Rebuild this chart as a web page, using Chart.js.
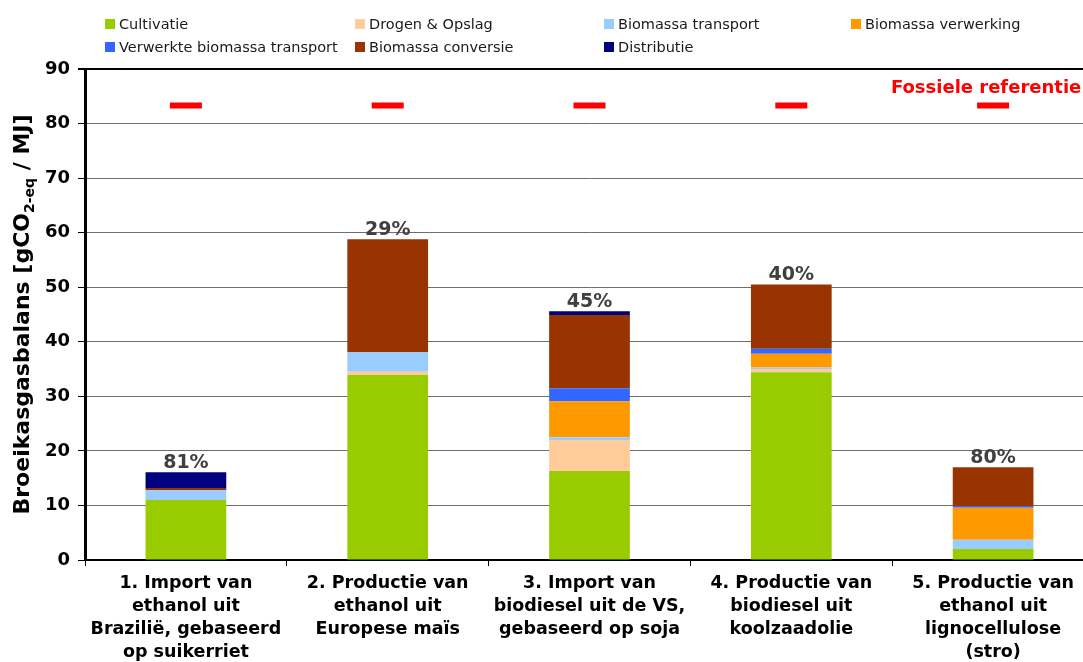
<!DOCTYPE html>
<html>
<head>
<meta charset="utf-8">
<script src="https://cdn.jsdelivr.net/npm/chart.js@4.4.1/dist/chart.umd.min.js"></script>
<style>
  body { margin: 0; background: #fff; overflow: hidden; }
  #wrap { position: relative; width: 1095px; height: 662px; }
  #legend { position: absolute; top: 0; left: 0; font-family: "DejaVu Sans", sans-serif; font-size: 14.5px; color: #1a1a1a; }
  .item { position: absolute; display: flex; align-items: center; white-space: nowrap; height: 18px; }
  .box { width: 10px; height: 10px; margin-right: 4px; }
</style>
</head>
<body>
<div id="wrap">
  <canvas id="ghgChart" width="1095" height="662"></canvas>
  <div id="legend"></div>
</div>
<script>
const categories = [
    ['1. Import van', 'ethanol uit', 'Brazilië, gebaseerd', 'op suikerriet'],
    ['2. Productie van', 'ethanol uit', 'Europese maïs'],
    ['3. Import van', 'biodiesel uit de VS,', 'gebaseerd op soja'],
    ['4. Productie van', 'biodiesel uit', 'koolzaadolie'],
    ['5. Productie van', 'ethanol uit', 'lignocellulose', '(stro)']
];

// gCO2-eq / MJ per keten-stap
const cultivatie = [11.0, 33.9, 16.3, 34.4, 2.0];
const drogenOpslag = [0, 0.6, 5.7, 0.6, 0];
const biomassaTransport = [1.8, 3.6, 0.5, 0.3, 1.7];
const biomassaVerwerking = [0, 0, 6.6, 2.5, 5.9];
const verwerkteTransport = [0, 0, 2.4, 0.9, 0.3];
const biomassaConversie = [0.4, 20.7, 13.4, 11.8, 7.1];
const distributie = [2.9, 0, 0.7, 0, 0];

const reductie = ['81%', '29%', '45%', '40%', '80%'];
const fossieleReferentie = [83.3, 83.3, 83.3, 83.3, 83.3];

const yTicks = [0, 10, 20, 30, 40, 50, 60, 70, 80, 90];

const series = [
    { label: 'Cultivatie', data: cultivatie, color: '#99CC00' },
    { label: 'Drogen & Opslag', data: drogenOpslag, color: '#FFCC99' },
    { label: 'Biomassa transport', data: biomassaTransport, color: '#99CCFF' },
    { label: 'Biomassa verwerking', data: biomassaVerwerking, color: '#FF9900' },
    { label: 'Verwerkte biomassa transport', data: verwerkteTransport, color: '#3366FF' },
    { label: 'Biomassa conversie', data: biomassaConversie, color: '#993300' },
    { label: 'Distributie', data: distributie, color: '#000080' }
];

const FONT = '"DejaVu Sans", sans-serif';

// legenda in twee rijen, vaste kolommen
const legendEl = document.getElementById('legend');
const colX = [105, 355, 604, 851];
const rowY = [15, 38];
series.forEach((s, i) => {
    const item = document.createElement('div');
    item.className = 'item';
    item.style.left = colX[i % 4] + 'px';
    item.style.top = rowY[Math.floor(i / 4)] + 'px';
    item.innerHTML = '<span class="box" style="background:' + s.color + '"></span>' + s.label;
    legendEl.appendChild(item);
});

const overlayPlugin = {
    id: 'overlay',
    afterDatasetsDraw(chart) {
        const ctx = chart.ctx;
        const x = chart.scales.x;
        const y = chart.scales.y;

        // percentages boven de staven
        ctx.save();
        ctx.font = 'bold 19px ' + FONT;
        ctx.fillStyle = '#404040';
        ctx.textAlign = 'center';
        ctx.textBaseline = 'alphabetic';
        categories.forEach((c, i) => {
            const total = series.reduce((sum, s) => sum + s.data[i], 0);
            ctx.fillText(reductie[i], x.getPixelForValue(i), y.getPixelForValue(total) - 4);
        });

        // label fossiele referentie
        ctx.font = 'bold 18px ' + FONT;
        ctx.fillStyle = '#FF0000';
        ctx.textBaseline = 'middle';
        ctx.fillText('Fossiele referentie', x.getPixelForValue(4) - 7, y.getPixelForValue(86.5));
        ctx.restore();
    },
    afterDraw(chart) {
        // y-as titel met subscript
        const ctx = chart.ctx;
        const area = chart.chartArea;
        const parts = [
            { t: 'Broeikasgasbalans [gCO', size: 22, dy: 0 },
            { t: '2-eq', size: 14, dy: 5 },
            { t: ' / MJ]', size: 22, dy: 0 }
        ];
        ctx.save();
        ctx.fillStyle = '#000';
        ctx.textBaseline = 'alphabetic';
        let total = 0;
        parts.forEach(p => {
            ctx.font = 'bold ' + p.size + 'px ' + FONT;
            p.w = ctx.measureText(p.t).width;
            total += p.w;
        });
        ctx.translate(29, (area.top + area.bottom) / 2);
        ctx.rotate(-Math.PI / 2);
        let pos = -total / 2;
        parts.forEach(p => {
            ctx.font = 'bold ' + p.size + 'px ' + FONT;
            ctx.fillText(p.t, pos, p.dy);
            pos += p.w;
        });
        ctx.restore();
    }
};

const datasets = series.map(s => ({
    type: 'bar',
    label: s.label,
    data: s.data,
    backgroundColor: s.color,
    borderWidth: 0,
    stack: 'keten',
    barPercentage: 0.4,
    categoryPercentage: 1.0
}));

datasets.push({
    type: 'line',
    label: 'Fossiele referentie',
    data: fossieleReferentie,
    stack: 'fossiel',
    showLine: false,
    pointStyle: 'line',
    pointRadius: 16,
    pointBorderWidth: 6,
    pointBorderColor: '#FF0000',
    borderColor: '#FF0000'
});

new Chart(document.getElementById('ghgChart').getContext('2d'), {
    type: 'bar',
    data: { labels: categories, datasets: datasets },
    options: {
        responsive: false,
        animation: false,
        layout: { autoPadding: false, padding: { left: 0, top: 69, right: 1, bottom: 0 } },
        plugins: {
            legend: { display: false },
            tooltip: { enabled: false }
        },
        scales: {
            x: {
                stacked: true,
                afterFit: (scale) => {
                    scale.height = 102;
                    scale.paddingLeft = 0;
                    scale.paddingRight = 0;
                },
                border: { color: '#000', width: 2 },
                grid: { offset: true, drawOnChartArea: false, color: '#000', tickLength: 6 },
                ticks: {
                    color: '#000',
                    padding: 6,
                    maxRotation: 0,
                    autoSkip: false,
                    font: { family: FONT, size: 17.5, weight: 'bold', lineHeight: 1.32 }
                }
            },
            y: {
                stacked: true,
                min: 0,
                max: 90,
                afterFit: (scale) => {
                    scale.width = 85;
                    scale.paddingTop = 0;
                    scale.paddingBottom = 0;
                },
                afterBuildTicks: (scale) => { scale.ticks = yTicks.map(v => ({ value: v })); },
                border: { color: '#000', width: 3 },
                grid: {
                    color: (c) => c.tick && c.tick.value === 90 ? '#000' : '#6e6e6e',
                    lineWidth: (c) => c.tick && c.tick.value === 90 ? 2 : 1,
                    tickColor: '#000',
                    tickLength: 7
                },
                ticks: {
                    color: '#000',
                    padding: 8,
                    font: { family: FONT, size: 18, weight: 'bold' }
                }
            }
        }
    },
    plugins: [overlayPlugin]
});
</script>
</body>
</html>
